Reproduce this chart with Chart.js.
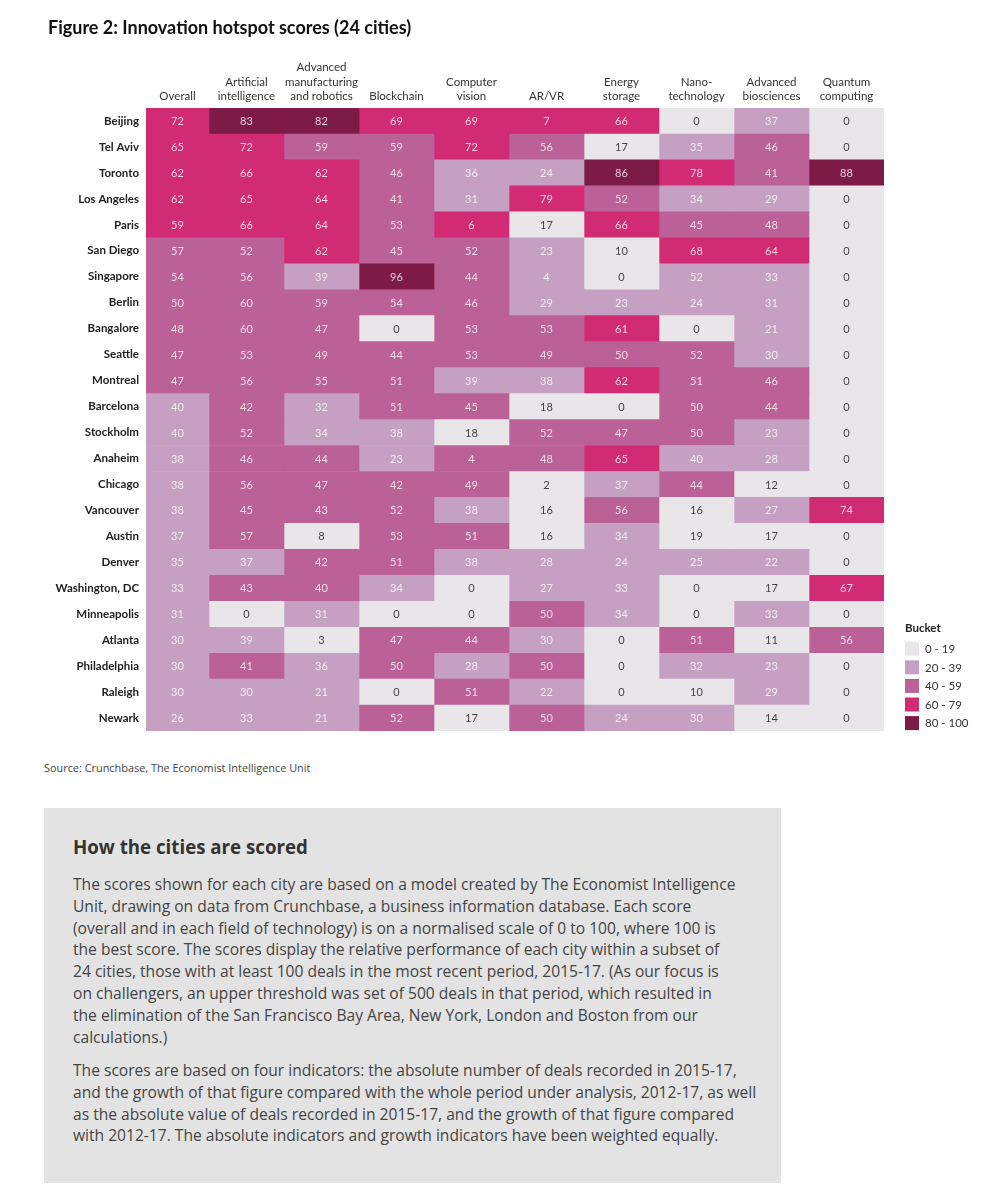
<!DOCTYPE html>
<html>
<head>
<meta charset="utf-8">
<script src="https://cdn.jsdelivr.net/npm/chart.js@4.4.0/dist/chart.umd.min.js"></script>
<style>
	body { margin: 0; background: #fff; font-family: Lato, "Open Sans", sans-serif; color: #222; }
	#page { position: relative; width: 987px; height: 1200px; }
	#title { position: absolute; left: 48px; top: 16px; font-size: 18px; font-weight: bold; color: #111; }
	#wrap { position: absolute; left: 0; top: 0; width: 987px; height: 745px; }
	#source { position: absolute; left: 44px; top: 760px; font-family: "Open Sans", sans-serif; font-size: 10.9px; color: #444; }
	#box { position: absolute; left: 44px; top: 808px; width: 737px; height: 375px; background: #e3e3e3; }
	#box h2 { position: absolute; left: 29px; top: 26px; margin: 0; font-family: "Open Sans", sans-serif; font-size: 18.7px; font-weight: bold; color: #333; }
	#box p { position: absolute; left: 29px; margin: 0; font-family: "Open Sans", sans-serif; font-size: 15.6px; line-height: 21.8px; color: #444; white-space: nowrap; }
</style>
</head>
<body>
<div id="page">
	<div id="wrap"><canvas id="heatmap"></canvas></div>
	<div id="title">Figure 2: Innovation hotspot scores (24 cities)</div>
	<div id="source">Source: Crunchbase, The Economist Intelligence Unit</div>
	<div id="box">
		<h2>How the cities are scored</h2>
		<p style="top:66px">The scores shown for each city are based on a model created by The Economist Intelligence<br>Unit, drawing on data from Crunchbase, a business information database. Each score<br>(overall and in each field of technology) is on a normalised scale of 0 to 100, where 100 is<br>the best score. The scores display the relative performance of each city within a subset of<br>24 cities, those with at least 100 deals in the most recent period, 2015-17. (As our focus is<br>on challengers, an upper threshold was set of 500 deals in that period, which resulted in<br>the elimination of the San Francisco Bay Area, New York, London and Boston from our<br>calculations.)</p>
		<p style="top:252px">The scores are based on four indicators: the absolute number of deals recorded in 2015-17,<br>and the growth of that figure compared with the whole period under analysis, 2012-17, as well<br>as the absolute value of deals recorded in 2015-17, and the growth of that figure compared<br>with 2012-17. The absolute indicators and growth indicators have been weighted equally.</p>
	</div>
</div>
<script>
	// cities, top to bottom
	var cities = ['Beijing', 'Tel Aviv', 'Toronto', 'Los Angeles', 'Paris', 'San Diego', 'Singapore', 'Berlin',
		'Bangalore', 'Seattle', 'Montreal', 'Barcelona', 'Stockholm', 'Anaheim', 'Chicago', 'Vancouver',
		'Austin', 'Denver', 'Washington, DC', 'Minneapolis', 'Atlanta', 'Philadelphia', 'Raleigh', 'Newark'];

	// column headings (one entry per line)
	var columnLabels = [
		['Overall'], ['Artificial', 'intelligence'], ['Advanced', 'manufacturing', 'and robotics'],
		['Blockchain'], ['Computer', 'vision'], ['AR/VR'], ['Energy', 'storage'],
		['Nano-', 'technology'], ['Advanced', 'biosciences'], ['Quantum', 'computing']
	];

	// scores, one row per city, same order as columnLabels
	var scores = [
		[72, 83, 82, 69, 69, 7, 66, 0, 37, 0],
		[65, 72, 59, 59, 72, 56, 17, 35, 46, 0],
		[62, 66, 62, 46, 36, 24, 86, 78, 41, 88],
		[62, 65, 64, 41, 31, 79, 52, 34, 29, 0],
		[59, 66, 64, 53, 6, 17, 66, 45, 48, 0],
		[57, 52, 62, 45, 52, 23, 10, 68, 64, 0],
		[54, 56, 39, 96, 44, 4, 0, 52, 33, 0],
		[50, 60, 59, 54, 46, 29, 23, 24, 31, 0],
		[48, 60, 47, 0, 53, 53, 61, 0, 21, 0],
		[47, 53, 49, 44, 53, 49, 50, 52, 30, 0],
		[47, 56, 55, 51, 39, 38, 62, 51, 46, 0],
		[40, 42, 32, 51, 45, 18, 0, 50, 44, 0],
		[40, 52, 34, 38, 18, 52, 47, 50, 23, 0],
		[38, 46, 44, 23, 4, 48, 65, 40, 28, 0],
		[38, 56, 47, 42, 49, 2, 37, 44, 12, 0],
		[38, 45, 43, 52, 38, 16, 56, 16, 27, 74],
		[37, 57, 8, 53, 51, 16, 34, 19, 17, 0],
		[35, 37, 42, 51, 38, 28, 24, 25, 22, 0],
		[33, 43, 40, 34, 0, 27, 33, 0, 17, 67],
		[31, 0, 31, 0, 0, 50, 34, 0, 33, 0],
		[30, 39, 3, 47, 44, 30, 0, 51, 11, 56],
		[30, 41, 36, 50, 28, 50, 0, 32, 23, 0],
		[30, 30, 21, 0, 51, 22, 0, 10, 29, 0],
		[26, 33, 21, 52, 17, 50, 24, 30, 14, 0]
	];

	// colour bucket of each cell as shown in the figure (0 = 0-19 ... 4 = 80-100)
	var buckets = [
		[3, 4, 4, 3, 3, 3, 3, 0, 1, 0],
		[3, 3, 2, 2, 3, 2, 0, 1, 2, 0],
		[3, 3, 3, 2, 1, 1, 4, 3, 2, 4],
		[3, 3, 3, 2, 1, 3, 2, 1, 1, 0],
		[3, 3, 3, 2, 3, 0, 3, 2, 2, 0],
		[2, 2, 3, 2, 2, 1, 0, 3, 3, 0],
		[2, 2, 1, 4, 2, 1, 0, 1, 1, 0],
		[2, 2, 2, 2, 2, 1, 1, 1, 1, 0],
		[2, 2, 2, 0, 2, 2, 3, 0, 1, 0],
		[2, 2, 2, 2, 2, 2, 2, 2, 1, 0],
		[2, 2, 2, 2, 1, 1, 3, 2, 2, 0],
		[1, 2, 1, 2, 2, 0, 0, 2, 2, 0],
		[1, 2, 1, 1, 0, 2, 2, 2, 1, 0],
		[1, 2, 2, 1, 2, 2, 3, 1, 1, 0],
		[1, 2, 2, 2, 2, 0, 1, 2, 0, 0],
		[1, 2, 2, 2, 1, 0, 2, 0, 1, 3],
		[1, 2, 0, 2, 2, 0, 1, 0, 0, 0],
		[1, 1, 2, 2, 1, 1, 1, 1, 1, 0],
		[1, 2, 2, 1, 0, 1, 1, 0, 0, 3],
		[1, 0, 1, 0, 0, 2, 1, 0, 1, 0],
		[1, 1, 0, 2, 2, 1, 0, 2, 0, 2],
		[1, 2, 1, 2, 1, 2, 0, 1, 1, 0],
		[1, 1, 1, 0, 2, 1, 0, 0, 1, 0],
		[1, 1, 1, 2, 0, 2, 1, 1, 0, 0]
	];

	var bucketLabels = ['0 - 19', '20 - 39', '40 - 59', '60 - 79', '80 - 100'];
	var bucketColors = ['#e8e6e9', '#c6a0c3', '#bc6098', '#d12b73', '#7c1b45'];

	// relative column widths (the Overall column is a bit narrower)
	var colWeights = [0.84, 1, 1, 1, 1, 1, 1, 1, 1, 1];
	var colEdges = [0];
	colWeights.forEach(function (w, i) { colEdges.push(colEdges[i] + w); });
	var colCenters = colWeights.map(function (w, i) { return colEdges[i] + w / 2; });

	var datasets = columnLabels.map(function (label, j) {
		return {
			label: label.join(' '),
			data: cities.map(function () { return [colEdges[j], colEdges[j + 1]]; }),
			backgroundColor: buckets.map(function (row) { return bucketColors[row[j]]; }),
			borderWidth: 0,
			barPercentage: 1,
			categoryPercentage: 1,
			grouped: false
		};
	});

	// writes the score in the middle of each cell
	var cellValues = {
		id: 'cellValues',
		afterDatasetsDraw: function (chart) {
			var ctx = chart.ctx;
			ctx.save();
			ctx.font = '11px Lato, "Open Sans", sans-serif';
			ctx.textAlign = 'center';
			ctx.textBaseline = 'middle';
			chart.data.datasets.forEach(function (ds, j) {
				chart.getDatasetMeta(j).data.forEach(function (bar, i) {
					ctx.fillStyle = buckets[i][j] === 0 ? '#444' : 'rgba(255,255,255,0.78)';
					ctx.fillText(scores[i][j], (bar.x + bar.base) / 2, bar.y + 0.5);
				});
			});
			ctx.restore();
		}
	};

	// bucket legend, bottom right of the grid
	var bucketLegend = {
		id: 'bucketLegend',
		afterDraw: function (chart) {
			var ctx = chart.ctx;
			var area = chart.chartArea;
			var x = area.right + 21;
			var step = 18.6;
			var top = area.bottom - 15 - step * (bucketLabels.length - 1);
			ctx.save();
			ctx.textBaseline = 'middle';
			ctx.textAlign = 'left';
			ctx.fillStyle = '#222';
			ctx.font = 'bold 11.5px Lato, sans-serif';
			ctx.fillText('Bucket', x, top - 13);
			ctx.font = '11.5px Lato, sans-serif';
			bucketLabels.forEach(function (t, k) {
				var y = top + k * step;
				ctx.fillStyle = bucketColors[k];
				ctx.fillRect(x, y, 14, 14);
				ctx.fillStyle = '#333';
				ctx.fillText(t, x + 20, y + 7.5);
			});
			ctx.restore();
		}
	};

	var ctx = document.getElementById('heatmap').getContext('2d');
	var heatmap = new Chart(ctx, {
		type: 'bar',
		data: { labels: cities, datasets: datasets },
		plugins: [cellValues, bucketLegend],
		options: {
			indexAxis: 'y',
			responsive: true,
			maintainAspectRatio: false,
			animation: false,
			layout: { padding: { top: 55, left: 0, right: 103, bottom: 10 } },
			plugins: {
				tooltip: { enabled: false },
				legend: { display: false }
			},
			scales: {
				x: {
					type: 'linear',
					position: 'top',
					min: 0,
					max: colEdges[colEdges.length - 1],
					grid: { display: false, drawTicks: false },
					border: { display: false },
					afterBuildTicks: function (scale) {
						scale.ticks = colCenters.map(function (v) { return { value: v }; });
					},
					afterFit: function (scale) { scale.height = 53; },
					ticks: {
						autoSkip: false,
						maxRotation: 0,
						padding: 4,
						color: '#333',
						font: { family: 'Lato', size: 11.5, lineHeight: 1.26 },
						callback: function (value, index) { return columnLabels[index]; }
					}
				},
				y: {
					grid: { display: false, drawTicks: false },
					border: { display: false },
					afterFit: function (scale) { scale.width = 146; },
					ticks: {
						padding: 7,
						color: '#222',
						font: { family: 'Lato', size: 11.5, weight: 'bold' }
					}
				}
			}
		}
	});
</script>
</body>
</html>
